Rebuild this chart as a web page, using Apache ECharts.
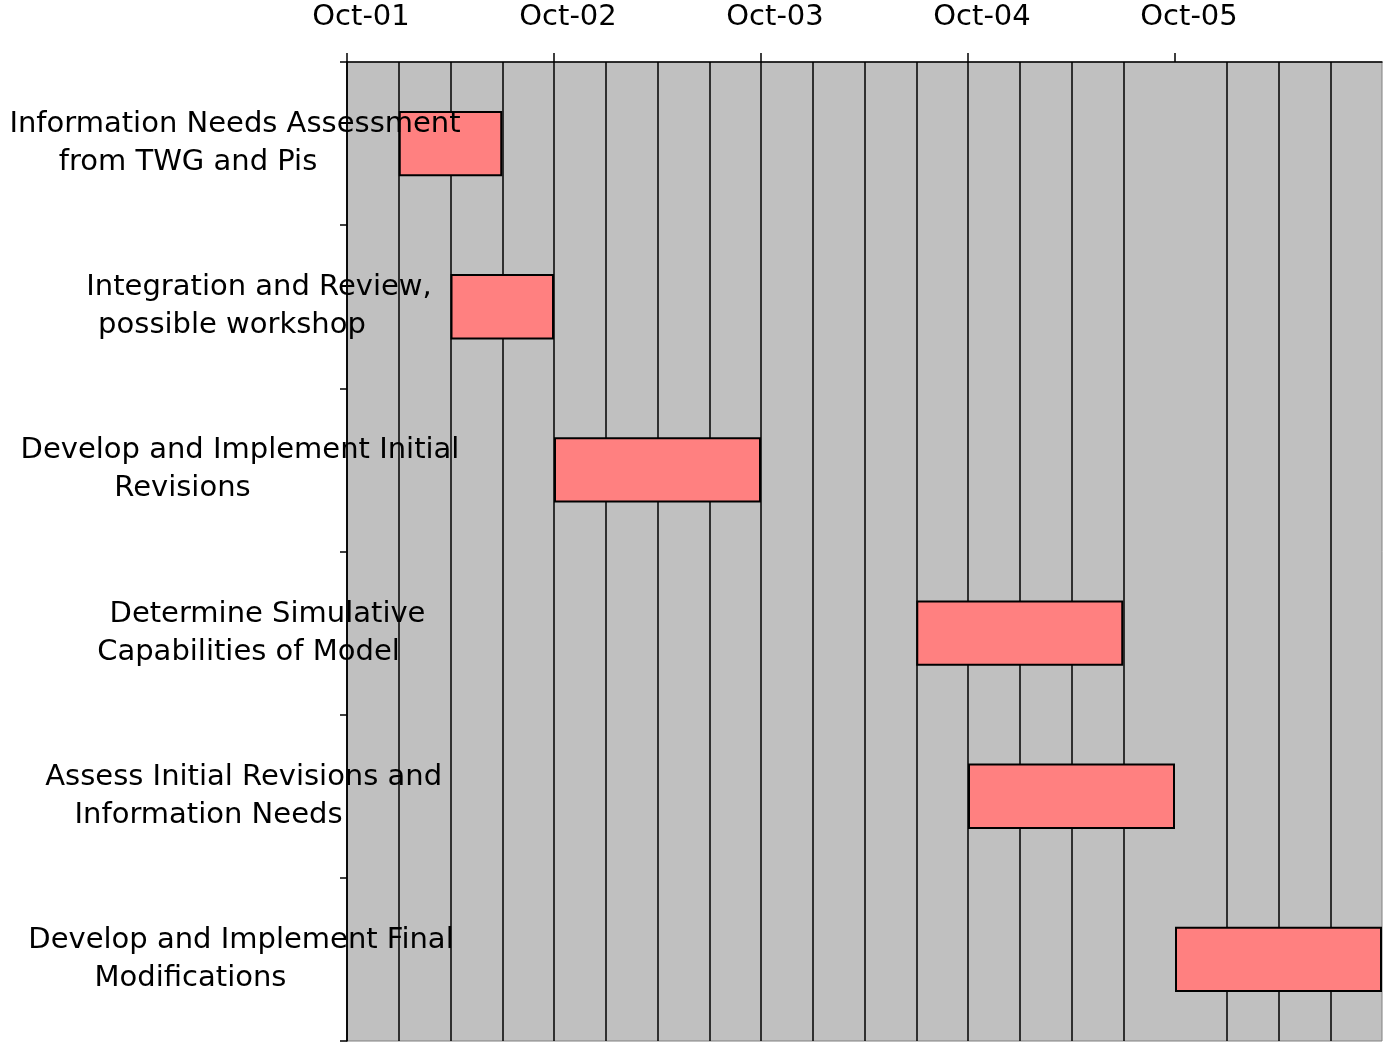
<!DOCTYPE html>
<html>
<head>
<meta charset="utf-8">
<title>Schedule</title>
<script src="https://cdn.jsdelivr.net/npm/echarts@6/dist/echarts.min.js"></script>
<style>
  html, body { margin: 0; padding: 0; background: #fff; }
  #chart { width: 1384px; height: 1043px; }
</style>
</head>
<body>
<div id="chart"></div>
<script>
  // tasks, top to bottom
  var tasks = [
    'Information Needs Assessment\nfrom TWG and Pis',
    'Integration and Review,\npossible workshop',
    'Develop and Implement Initial\nRevisions',
    'Determine Simulative\nCapabilities of Model',
    'Assess Initial Revisions and\nInformation Needs',
    'Develop and Implement Final\nModifications'
  ];
  // months counted from Oct-01
  var startMonth = [3, 6, 12, 33, 36, 48];
  var endMonth = [9, 12, 24, 45, 48, 60];

  var yearTicks = [0, 12, 24, 36, 48];
  var yearLabels = ['Oct-01', 'Oct-02', 'Oct-03', 'Oct-04', 'Oct-05'];

  // horizontal nudge (px) of each label line, the original text is not evenly centred
  var lineShift = [[-5, -52], [19, -8], [0, -57.5], [27.5, 8.5], [3.7, -31.5], [1, -49.5]];

  var FONT = 'DejaVu Sans';

  var rich = {};
  lineShift.forEach(function (s, i) {
    s.forEach(function (d, j) {
      rich['t' + i + '_' + j] = {
        fontFamily: FONT,
        fontSize: 29,
        color: '#000',
        lineHeight: 38,
        padding: d >= 0 ? [0, 0, 0, 2 * d] : [0, -2 * d, 0, 0]
      };
    });
  });

  var duration = startMonth.map(function (s, i) { return endMonth[i] - s; });

  var chart = echarts.init(document.getElementById('chart'));

  var option = {
    animation: false,
    backgroundColor: '#fff',
    grid: {
      left: 347,
      top: 62,
      right: 2,
      bottom: 2,
      show: true,
      backgroundColor: '#C0C0C0',
      borderColor: '#808080',
      borderWidth: 1
    },
    xAxis: {
      type: 'value',
      position: 'top',
      min: 0,
      max: 60,
      interval: 12,
      axisLine: { show: true, lineStyle: { color: '#000', width: 1.5 } },
      axisTick: {
        show: true,
        length: 9,
        customValues: yearTicks,
        lineStyle: { color: '#000', width: 1.5 }
      },
      minorTick: { show: false, splitNumber: 4 },
      axisLabel: {
        customValues: yearTicks,
        margin: 30,
        fontFamily: FONT,
        fontSize: 29,
        color: '#000',
        padding: [0, 0, 0, 28],
        formatter: function (v) {
          var k = yearTicks.indexOf(v);
          return k >= 0 ? yearLabels[k] : '';
        }
      },
      splitLine: { show: true, showMaxLine: false, lineStyle: { color: '#000', width: 1.5 } },
      minorSplitLine: { show: true, lineStyle: { color: '#000', width: 1.5 } }
    },
    yAxis: {
      type: 'category',
      inverse: true,
      data: tasks,
      z: 10,
      axisLine: { show: true, lineStyle: { color: '#000', width: 1.5 } },
      axisTick: { show: true, length: 7, lineStyle: { color: '#000', width: 1.5 } },
      splitLine: { show: false },
      axisLabel: {
        interval: 0,
        margin: 107,
        align: 'center',
        verticalAlign: 'middle',
        formatter: function (v, idx) {
          return v.split('\n').map(function (line, j) {
            return '{t' + idx + '_' + j + '|' + line + '}';
          }).join('\n');
        },
        rich: rich
      }
    },
    series: [
      {
        name: 'offset',
        type: 'bar',
        stack: 'gantt',
        silent: true,
        barWidth: '40%',
        itemStyle: { color: 'transparent' },
        data: startMonth
      },
      {
        name: 'task',
        type: 'bar',
        stack: 'gantt',
        barWidth: '40%',
        itemStyle: { color: '#FF8080', borderColor: '#000', borderWidth: 2 },
        data: duration
      }
    ]
  };

  chart.setOption(option);
</script>
</body>
</html>
